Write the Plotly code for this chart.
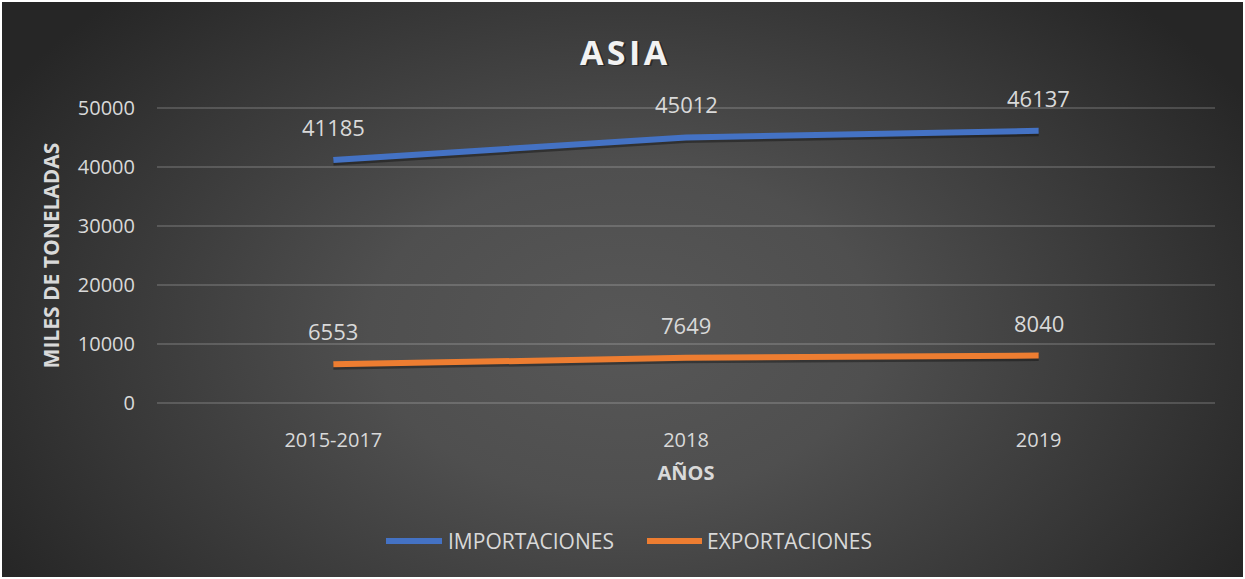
import base64
import plotly.graph_objects as go

# ---- data -------------------------------------------------------------
periodos = ["2015-2017", "2018", "2019"]
importaciones = [41185, 45012, 46137]
exportaciones = [6553, 7649, 8040]
series_nombres = ["IMPORTACIONES", "EXPORTACIONES"]
y_ticks = [0, 10000, 20000, 30000, 40000, 50000]

# ---- layout constants ---------------------------------------------------
W, H = 1245, 579
ML, MR, MT, MB = 157, 30, 104, 172
PW, PH = W - ML - MR, H - MT - MB
PAD_PX = 4                              # keeps the 0 / 50000 gridlines visible
UNITS_PER_PX = 50000 / (PH - 2 * PAD_PX)
Y_RANGE = [-PAD_PX * UNITS_PER_PX, 50000 + PAD_PX * UNITS_PER_PX]
SHADOW_PX = 2                           # drop-shadow offset of the lines
AZUL = "#4472C4"
NARANJA = "#ED7D31"
TEXTO = "#d9d9d9"
FUENTE = "Open Sans, Noto Sans, sans-serif"


def px_x(px):
    return (px - ML) / PW


def px_y(py):
    return (H - MB - py) / PH


# dark radial-gradient backdrop
svg = f"""<svg xmlns='http://www.w3.org/2000/svg' width='{W-4}' height='{H-4}'>
<defs><radialGradient id='g' gradientUnits='userSpaceOnUse' cx='0' cy='0' r='1'
 gradientTransform='translate({(W-4)/2} 330) scale(720 470)'>
<stop offset='0' stop-color='#575757'/>
<stop offset='0.35' stop-color='#4f4f4f'/>
<stop offset='0.75' stop-color='#363636'/>
<stop offset='1' stop-color='#262626'/>
</radialGradient></defs>
<rect width='100%' height='100%' fill='url(#g)'/></svg>"""
fondo = "data:image/svg+xml;base64," + base64.b64encode(svg.encode()).decode()

fig = go.Figure()

series = [(importaciones, AZUL), (exportaciones, NARANJA)]
# drop shadows live on the base axis, whose range is shifted a few pixels
for valores, color in series:
    fig.add_trace(go.Scatter(
        x=periodos, y=valores, mode="lines", yaxis="y",
        line=dict(color="rgba(0,0,0,0.35)", width=7),
        hoverinfo="skip", showlegend=False))
# the lines themselves sit on the visible overlay axis, drawn above
for (valores, color), nombre in zip(series, series_nombres):
    fig.add_trace(go.Scatter(
        x=periodos, y=valores, mode="lines", name=nombre, yaxis="y2",
        line=dict(color=color, width=6), showlegend=False))

# value labels above each point (x given as category index)
annotations = []
for valores, _ in series:
    for i, v in enumerate(valores):
        annotations.append(dict(
            x=i, y=v, xref="x", yref="y2", text=str(v), showarrow=False,
            yshift=33, yanchor="middle",
            font=dict(family=FUENTE, size=22, color=TEXTO)))

# title with a soft shadow
for dx, dy, col in [(1.5, -1.5, "rgba(0,0,0,0.35)"), (0, 0, "#f2f2f2")]:
    annotations.append(dict(
        x=px_x(624), y=px_y(52), xref="paper", yref="paper",
        text="<b>A S I A</b>".replace(" ", "&#8202;"), showarrow=False,
        xshift=dx, yshift=dy, xanchor="center", yanchor="middle",
        font=dict(family=FUENTE, size=34, color=col)))

# legend drawn as line swatches + labels
shapes = []
leyenda = [(386, 442, 446, AZUL, series_nombres[0]),
           (647, 702, 705, NARANJA, series_nombres[1])]
for x0, x1, xt, color, nombre in leyenda:
    shapes.append(dict(type="line", xref="paper", yref="paper",
                       x0=px_x(x0), x1=px_x(x1), y0=px_y(541), y1=px_y(541),
                       line=dict(color=color, width=6)))
    annotations.append(dict(x=px_x(xt), y=px_y(541), xref="paper", yref="paper",
                            text=nombre, showarrow=False,
                            xanchor="left", yanchor="middle",
                            font=dict(family=FUENTE, size=21, color=TEXTO)))

shift_units = SHADOW_PX * UNITS_PER_PX

fig.update_layout(
    width=W, height=H,
    margin=dict(l=ML, r=MR, t=MT, b=MB, autoexpand=False),
    paper_bgcolor="#ffffff",
    plot_bgcolor="rgba(0,0,0,0)",
    showlegend=False,
    font=dict(family=FUENTE, color=TEXTO),
    images=[dict(source=fondo, xref="paper", yref="paper",
                 x=px_x(2), y=px_y(2), sizex=(W - 4) / PW, sizey=(H - 4) / PH,
                 xanchor="left", yanchor="top", sizing="stretch",
                 layer="below")],
    shapes=shapes,
    annotations=annotations,
    xaxis=dict(
        type="category", range=[-0.5, len(periodos) - 0.5],
        showgrid=False, zeroline=False, showline=False,
        tickfont=dict(family=FUENTE, size=20, color=TEXTO),
        ticklabelstandoff=19,
        title=dict(text="<b>AÑOS</b>", standoff=13,
                   font=dict(family=FUENTE, size=20, color=TEXTO)),
        automargin=False),
    yaxis=dict(
        range=[Y_RANGE[0] + shift_units, Y_RANGE[1] + shift_units],
        showgrid=False, zeroline=False, showline=False,
        showticklabels=False, ticks=""),
    yaxis2=dict(
        overlaying="y", side="left",
        range=Y_RANGE, tickvals=y_ticks,
        ticktext=[str(t) for t in y_ticks],
        showgrid=True, gridcolor="rgba(255,255,255,0.16)", gridwidth=1.5,
        zeroline=False, showline=False,
        tickfont=dict(family=FUENTE, size=20, color=TEXTO),
        ticklabelstandoff=21,
        title=dict(text="<b>MILES DE TONELADAS</b>", standoff=12,
                   font=dict(family=FUENTE, size=21, color=TEXTO)),
        automargin=False),
)

fig.write_html("out.html")
